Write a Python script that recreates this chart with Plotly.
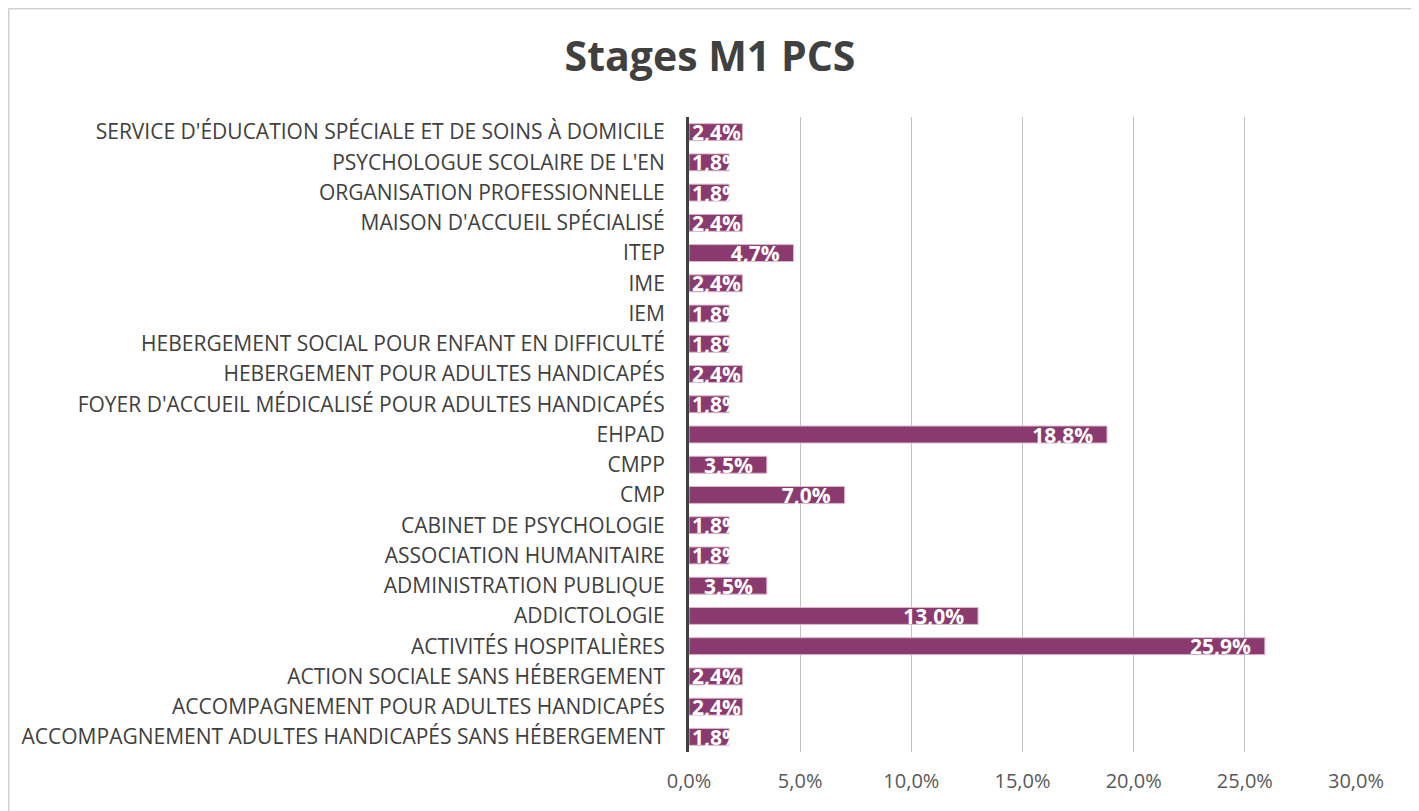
import plotly.graph_objects as go

categories = [
    "SERVICE D'ÉDUCATION SPÉCIALE ET DE SOINS À DOMICILE",
    "PSYCHOLOGUE SCOLAIRE DE L'EN",
    "ORGANISATION PROFESSIONNELLE",
    "MAISON D'ACCUEIL SPÉCIALISÉ",
    "ITEP",
    "IME",
    "IEM",
    "HEBERGEMENT SOCIAL POUR ENFANT EN DIFFICULTÉ",
    "HEBERGEMENT POUR ADULTES HANDICAPÉS",
    "FOYER D'ACCUEIL MÉDICALISÉ POUR ADULTES HANDICAPÉS",
    "EHPAD",
    "CMPP",
    "CMP",
    "CABINET DE PSYCHOLOGIE",
    "ASSOCIATION HUMANITAIRE",
    "ADMINISTRATION PUBLIQUE",
    "ADDICTOLOGIE",
    "ACTIVITÉS HOSPITALIÈRES",
    "ACTION SOCIALE SANS HÉBERGEMENT",
    "ACCOMPAGNEMENT POUR ADULTES HANDICAPÉS",
    "ACCOMPAGNEMENT ADULTES HANDICAPÉS SANS HÉBERGEMENT",
]
values = [2.4, 1.8, 1.8, 2.4, 4.7, 2.4, 1.8, 1.8, 2.4, 1.8, 18.8, 3.5, 7.0,
          1.8, 1.8, 3.5, 13.0, 25.9, 2.4, 2.4, 1.8]
tick_vals = [0, 5, 10, 15, 20, 25, 30]
tick_text = ["0,0%", "5,0%", "10,0%", "15,0%", "20,0%", "25,0%", "30,0%"]

# plotly draws categories bottom-up; reverse so first is on top
cats = categories[::-1]
vals = values[::-1]

def fmt(v):
    return f"{v:.1f}".replace(".", ",") + "%"

threshold = 3.0
big = [v if v >= threshold else None for v in vals]
small = [v if v < threshold else None for v in vals]
big_txt = [fmt(v) + "\u00a0\u00a0" if v >= threshold else "" for v in vals]
small_txt = [fmt(v) if v < threshold else "" for v in vals]

bar_color = "#8A3A6E"
line = dict(color="#D9B8CE", width=1)
font_txt = dict(family="Open Sans", size=21, color="white", weight="bold")

fig = go.Figure()
fig.add_trace(go.Bar(
    y=cats, x=big, orientation="h", marker=dict(color=bar_color, line=line),
    text=big_txt, textposition="inside", insidetextanchor="end",
    constraintext="none", textfont=font_txt, hoverinfo="skip",
))
fig.add_trace(go.Bar(
    y=cats, x=small, orientation="h", marker=dict(color=bar_color, line=line),
    text=small_txt, textposition="inside", insidetextanchor="start",
    constraintext="none", textfont=font_txt, hoverinfo="skip",
))

# page has an 8px body margin; figure sized/positioned to compensate
W, H = 1411, 803
L, T = 681, 109
PW, PH = 667, 635

fig.update_layout(
    width=W, height=H,
    barmode="overlay", bargap=0.44,
    showlegend=False,
    paper_bgcolor="white", plot_bgcolor="white",
    margin=dict(l=L, r=W - L - PW, t=T, b=H - T - PH),
    font=dict(family="Open Sans", color="#404040"),
    title=dict(text="<b>Stages M1 PCS</b>", x=702 / W, xanchor="center",
               y=1 - 49 / H, yanchor="middle", xref="container",
               yref="container",
               font=dict(family="Open Sans", size=41, color="#404040")),
    xaxis=dict(range=[0, 30], tickvals=tick_vals, ticktext=tick_text,
               showgrid=True, gridcolor="#C0C0C0", gridwidth=1,
               zeroline=False, showline=False, ticks="",
               tickfont=dict(family="Open Sans", size=20, color="#595959"),
               ticklabelstandoff=15, fixedrange=True),
    yaxis=dict(categoryorder="array", categoryarray=cats,
               showline=True, linecolor="#404040", linewidth=3,
               showgrid=False, ticks="", ticklabelstandoff=17,
               tickfont=dict(family="Open Sans", size=21, color="#404040"),
               fixedrange=True),
)

fig.add_shape(type="rect", xref="paper", yref="paper",
              x0=(0.75 - L) / PW, x1=(1406 - L) / PW,
              y0=(T + PH - 830) / PH, y1=(T + PH - 0.75) / PH,
              line=dict(color="#D0D0D0", width=1.5), layer="below")

fig.write_html("out.html")
